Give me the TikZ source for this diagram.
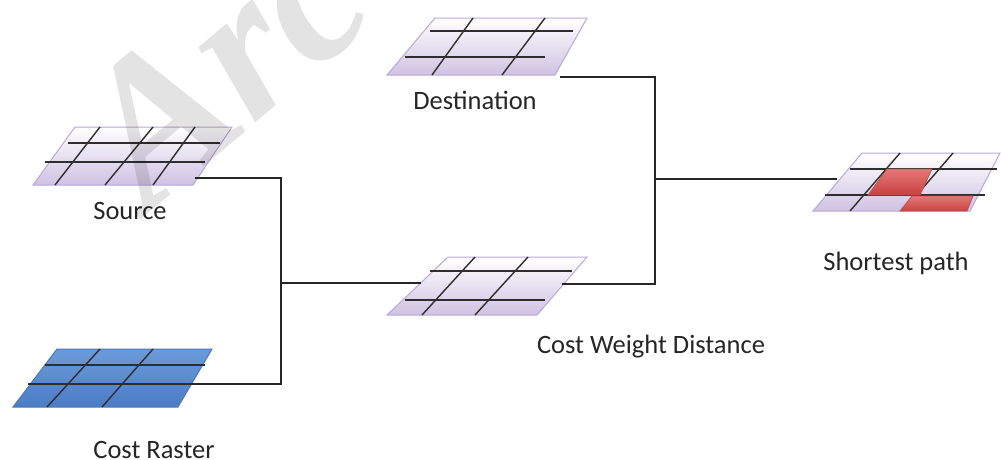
\documentclass[tikz,border=0pt]{standalone}
\usepackage{fontspec}
\setmainfont{Carlito}
\newfontfamily\wmfont{Liberation Serif}
\definecolor{lavedge}{HTML}{B9A9D6}
\definecolor{lavfill}{HTML}{CFC2E2}
\definecolor{blueedge}{HTML}{4A78BC}
\definecolor{bluetop}{HTML}{6B9BDA}
\definecolor{bluebot}{HTML}{4C7DC4}
\definecolor{rededge}{HTML}{C0504D}
\definecolor{redtop}{HTML}{E07A78}
\definecolor{redbot}{HTML}{CC4040}
\definecolor{gridc}{HTML}{2E2E2E}
\begin{document}
\begin{tikzpicture}[x=1pt,y=-1pt,
  panel/.style={draw=lavedge, line width=1pt, top color=white, bottom color=lavfill},
  bluepanel/.style={draw=blueedge, line width=1pt, top color=bluetop, bottom color=bluebot},
  redcell/.style={draw=rededge, line width=0.8pt, top color=redtop, bottom color=redbot},
  gridline/.style={draw=gridc, line width=1.4pt},
  wire/.style={draw=black!85, line width=1.5pt},
  lbl/.style={font=\fontsize{26.5}{31}\selectfont, text=black!85, inner sep=0pt},
  wm/.style={font=\wmfont\bfseries\itshape\fontsize{205}{205}\selectfont, text=black, text opacity=0.11, inner sep=0pt}
]
\clip (0,0) rectangle (1001,459);
\fill[white] (0,0) rectangle (1001,459);

% Source panel
\path[panel] (75,127) -- (232,127) -- (193,185) -- (33,185) -- cycle;
\draw[gridline] (68,143) -- (220,143) (45,162) -- (205,162);
\draw[gridline] (100,127) -- (55,185) (153,127) -- (105,185) (195,127) -- (153,185);
\node[lbl] (srclbl) at (130,211) {Source};
\coordinate (srcout) at (195,178);

% Cost raster panel
\path[bluepanel] (57,349) -- (212,349) -- (178,407) -- (13,407) -- cycle;
\draw[gridline] (45,365) -- (205,365) (28,384) -- (191,384);
\draw[gridline] (100,349) -- (47,407) (153,349) -- (102,407);
\node[lbl] (crlbl) at (154,450) {Cost Raster};
\coordinate (crout) at (191,384);

% Destination panel
\path[panel] (435,18) -- (587,18) -- (555,75) -- (387,75) -- cycle;
\draw[gridline] (430,31) -- (573,31) (405,57) -- (545,57);
\draw[gridline] (473,18) -- (432,75) (545,18) -- (502,75);
\node[lbl] (dstlbl) at (475,100) {Destination};
\coordinate (dstout) at (560,77);

% Cost weight distance panel
\path[panel] (448,257) -- (587,257) -- (537,315) -- (387,315) -- cycle;
\draw[gridline] (430,271) -- (572,271) (405,300) -- (545,300);
\draw[gridline] (475,257) -- (422,315) (528,257) -- (475,315);
\node[lbl] (cwdlbl) at (651,347) {Cost Weight Distance};
\coordinate (cwdin) at (421,283);
\coordinate (cwdout) at (562,284);

% Shortest path panel
\path[panel] (862,153) -- (1000,153) -- (970,211) -- (813,211) -- cycle;
\draw[gridline] (850,169) -- (997,169) (825,195) -- (985,195);
\draw[gridline] (900,153) -- (850,211) (953,153) -- (903,211);
\path[redcell] (887,169) -- (932,169) -- (920,195) -- (868,195) -- cycle;
\path[redcell] (912,196) -- (973,196) -- (967,211) -- (900,211) -- cycle;
\node[lbl] (splbl) at (896,263) {Shortest path};
\coordinate (spin) at (837,179);

% junctions
\coordinate (ja) at (281,178);
\coordinate (jb) at (281,384);
\coordinate (jc) at (281,283);
\coordinate (jd) at (655,77);
\coordinate (je) at (655,284);
\coordinate (jf) at (655,179);

% connectors
\draw[wire] (srcout) -- (ja) -- (jb) -- (crout);
\draw[wire] (jc) -- (cwdin);
\draw[wire] (dstout) -- (jd) -- (je) -- (cwdout);
\draw[wire] (jf) -- (spin);

% watermark (semi-transparent, on top)
\node[wm, rotate=40, anchor=base west] (wmark) at (148,214) {Arc};
\end{tikzpicture}
\end{document}
